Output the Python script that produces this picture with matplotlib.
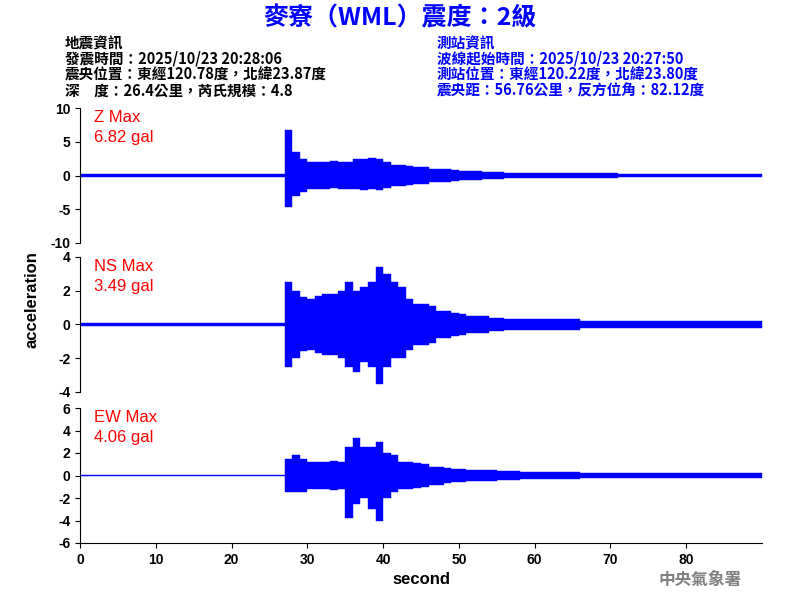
import matplotlib
matplotlib.use("Agg")
import matplotlib.pyplot as plt
import numpy as np

CJK = ["Noto Sans CJK TC", "DejaVu Sans"]
LAT = ["Liberation Sans", "DejaVu Sans"]

# envelope, one value per second (0..90)
z_up = [0.15] * 27 + [6.8, 3.5, 2.5, 2.0, 2.0, 2.0, 2.2, 2.0, 2.0, 2.5, 2.4, 2.6, 2.5, 2.0,
                      1.6, 1.5, 1.4, 1.3, 1.2, 1.0, 1.0, 0.9, 0.8, 0.7, 0.6, 0.6, 0.5, 0.5, 0.5,
                      0.4, 0.4, 0.4, 0.4, 0.4] + [0.3] * 10 + [0.2] * 20
z_lo = [-0.15] * 27 + [-4.7, -3.0, -2.5, -2.0, -2.0, -2.0, -1.8, -2.0, -2.0, -2.0, -2.2, -2.0, -2.2, -1.8,
                       -1.6, -1.5, -1.4, -1.3, -1.2, -1.0, -1.0, -0.9, -0.8, -0.7, -0.6, -0.6, -0.5, -0.5, -0.5,
                       -0.4, -0.4, -0.4, -0.4, -0.4] + [-0.3] * 10 + [-0.2] * 20
ns_up = [0.08] * 27 + [2.5, 2.0, 1.6, 1.5, 1.7, 1.8, 1.8, 2.0, 2.5, 2.0, 2.2, 2.5, 3.4, 3.0,
                       2.5, 2.2, 1.5, 1.2, 1.2, 1.1, 0.8, 0.8, 0.7, 0.6, 0.5, 0.5, 0.5, 0.4, 0.4,
                       0.3, 0.3, 0.3, 0.3, 0.3] + [0.3] * 5 + [0.2] * 25
ns_lo = [-0.08] * 27 + [-2.5, -2.0, -1.6, -1.5, -1.7, -1.8, -1.8, -2.0, -2.5, -2.8, -2.2, -2.5, -3.5, -2.5,
                        -2.0, -2.0, -1.5, -1.2, -1.2, -1.1, -0.8, -0.8, -0.7, -0.6, -0.5, -0.5, -0.5, -0.4, -0.4,
                        -0.3, -0.3, -0.3, -0.3, -0.3] + [-0.3] * 5 + [-0.2] * 25
ew_up = [0.08] * 27 + [1.5, 1.8, 1.5, 1.2, 1.2, 1.2, 1.3, 1.2, 2.5, 3.3, 2.5, 2.5, 3.0, 2.0,
                       1.8, 1.2, 1.2, 1.1, 1.0, 0.8, 0.8, 0.7, 0.6, 0.6, 0.5, 0.5, 0.5, 0.5, 0.4,
                       0.4, 0.4, 0.3, 0.3, 0.3] + [0.3] * 5 + [0.2] * 25
ew_lo = [-0.08] * 27 + [-1.5, -1.5, -1.5, -1.2, -1.2, -1.2, -1.3, -1.2, -3.8, -2.5, -2.0, -3.0, -4.0, -2.0,
                        -1.5, -1.2, -1.2, -1.1, -1.0, -0.8, -0.8, -0.7, -0.6, -0.6, -0.5, -0.5, -0.5, -0.5, -0.4,
                        -0.4, -0.4, -0.3, -0.3, -0.3] + [-0.3] * 5 + [-0.2] * 25

panels = [
    ("Z Max", "6.82 gal", z_up, z_lo, 10, [10, 5, 0, -5, -10]),
    ("NS Max", "3.49 gal", ns_up, ns_lo, 4, [4, 2, 0, -2, -4]),
    ("EW Max", "4.06 gal", ew_up, ew_lo, 6, [6, 4, 2, 0, -2, -4, -6]),
]
bottoms = [0.595, 0.3467, 0.095]

fig = plt.figure(figsize=(8, 6), dpi=100)
for i, ((name, peak, up, lo, lim, ticks), b) in enumerate(zip(panels, bottoms)):
    ax = fig.add_axes([0.1, b, 0.8525, 0.225])
    seconds = np.arange(len(up))
    ax.fill_between(seconds, lo, up, step="post", color="blue", linewidth=0.3)
    ax.set_xlim(0, 90)
    ax.set_ylim(-lim, lim)
    ax.set_yticks(ticks)
    ax.set_yticklabels([str(t) for t in ticks], fontfamily=LAT, fontweight="bold", fontsize=10)
    for s in ["top", "right"]:
        ax.spines[s].set_visible(False)
    if i < 2:
        ax.spines["bottom"].set_visible(False)
        ax.set_xticks([])
    else:
        ax.set_xticks(range(0, 90, 10))
        ax.set_xticklabels([str(t) for t in range(0, 90, 10)], fontfamily=LAT, fontweight="bold", fontsize=10)
        ax.set_xlabel("second", fontfamily=LAT, fontweight="bold", fontsize=12)
    ax.text(0.02, 0.93, name, transform=ax.transAxes, color="red", fontfamily=LAT, fontsize=12, va="center")
    ax.text(0.02, 0.78, peak, transform=ax.transAxes, color="red", fontfamily=LAT, fontsize=12, va="center")

fig.text(0.04, 0.5, "acceleration", rotation=90, va="center", ha="center",
         fontfamily=LAT, fontweight="bold", fontsize=12)
fig.text(0.5, 0.97, "麥寮（WML）震度：2級", color="blue", ha="center", va="center",
         fontfamily=CJK, fontweight="bold", fontsize=18)
left = ["地震資訊", "發震時間：2025/10/23 20:28:06", "震央位置：東經120.78度，北緯23.87度",
        "深　度：26.4公里，芮氏規模：4.8"]
right = ["測站資訊", "波線起始時間：2025/10/23 20:27:50", "測站位置：東經120.22度，北緯23.80度",
         "震央距：56.76公里，反方位角：82.12度"]
for k, (l, r) in enumerate(zip(left, right)):
    y = 1 - (43 + 16 * k) / 600
    fig.text(65 / 800, y, l, color="black", va="center", fontfamily=CJK, fontweight="bold", fontsize=10.5)
    fig.text(437 / 800, y, r, color="blue", va="center", fontfamily=CJK, fontweight="bold", fontsize=10.5)
fig.text(700 / 800, 1 - 580 / 600, "中央氣象署", color="gray", ha="center", va="center",
         fontfamily=CJK, fontweight="bold", fontsize=12)

fig.savefig("out.png", dpi=100)
